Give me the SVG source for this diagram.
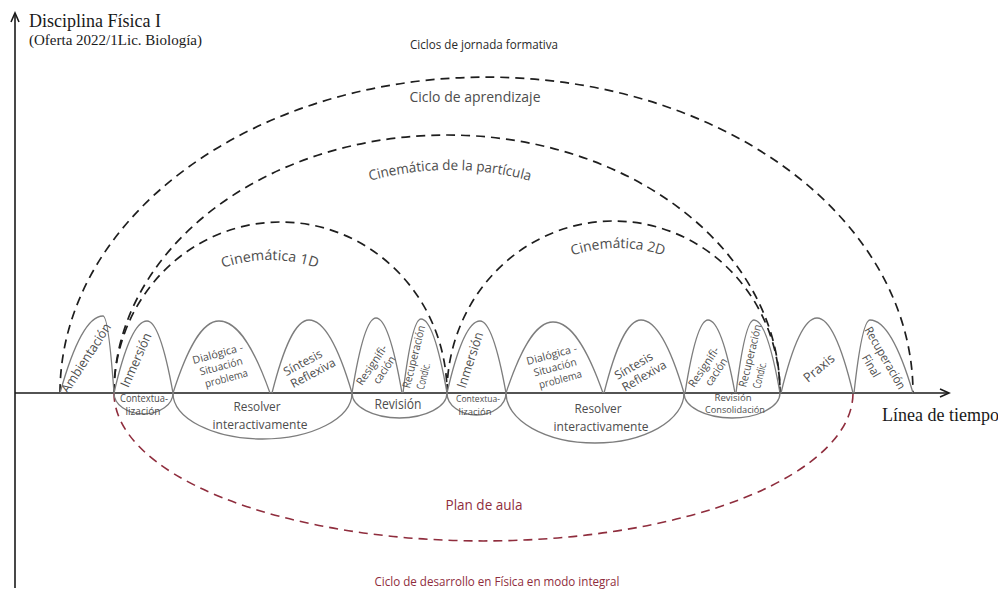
<svg xmlns="http://www.w3.org/2000/svg" width="998" height="591" viewBox="0 0 998 591">
<style>
.bump{fill:none;stroke:#7d7d7d;stroke-width:1.3}
.lbl{font-family:"Open Sans","Liberation Sans",sans-serif;fill:#4d4d4d;text-anchor:middle}
.st{text-anchor:start}
.arc{fill:none;stroke:#1e1e1e;stroke-width:1.7;stroke-dasharray:9 6}
.red{fill:none;stroke:#8f2d3d;stroke-width:1.6;stroke-dasharray:9 6}
.axis{stroke:#1a1a1a;stroke-width:1.6;fill:none}
.serif{font-family:"Liberation Serif","Times New Roman",serif;fill:#1a1a1a}
.rt{font-family:"Open Sans","Liberation Sans",sans-serif;fill:#8f2d3d;text-anchor:middle}
</style>
<defs>
<path id="p1d" d="M125 405 A145 145 0 0 1 415 405"/>
<path id="p2d" d="M473 393 A145 145 0 0 1 763 393"/>
<path id="ppart" d="M150 470 A300 300 0 0 1 750 470"/>
</defs>
<rect width="998" height="591" fill="#ffffff"/>

<g id="axes">
<line class="axis" x1="15" y1="588" x2="15" y2="14"/>
<polyline class="axis" points="11,22 15,13 19,22"/>
<line class="axis" x1="15" y1="393" x2="948" y2="393"/>
<polyline class="axis" points="940,389 949,393 940,397"/>
<text class="serif" x="29" y="27" font-size="18">Disciplina Física I</text>
<text class="serif" x="29" y="45" font-size="14" textLength="173" lengthAdjust="spacingAndGlyphs">(Oferta 2022/1Lic. Biología)</text>
<text class="serif" x="882" y="421" font-size="18">Línea de tiempo</text>
</g>

<g id="connectors">
<path class="arc" d="M60 393 A426.5 316 0 0 1 913 393"/>
<path class="arc" d="M114 393 A333 258 0 0 1 780 393"/>
<path class="arc" d="M114 393 A166.5 171 0 0 1 447 393"/>
<path class="arc" d="M447 393 A166.5 172 0 0 1 780 393"/>
<path class="red" d="M114 393 A369.5 148 0 0 0 853 393"/>
</g>

<g id="cycle-labels">
<text class="lbl" x="484" y="49" font-size="13" textLength="148" lengthAdjust="spacingAndGlyphs" style="fill:#2a2a2a">Ciclos de jornada formativa</text>
<text class="lbl" x="475" y="102" font-size="14" textLength="131" lengthAdjust="spacingAndGlyphs">Ciclo de aprendizaje</text>
<text class="lbl" font-size="14"><textPath href="#ppart" startOffset="50%" textLength="162" lengthAdjust="spacingAndGlyphs">Cinemática de la partícula</textPath></text>
<text class="lbl" font-size="14"><textPath href="#p1d" startOffset="50%" textLength="96" lengthAdjust="spacingAndGlyphs">Cinemática 1D</textPath></text>
<text class="lbl" font-size="14"><textPath href="#p2d" startOffset="50%" textLength="93" lengthAdjust="spacingAndGlyphs">Cinemática 2D</textPath></text>
<text class="rt" x="484" y="510" font-size="14" textLength="77" lengthAdjust="spacingAndGlyphs">Plan de aula</text>
<text class="rt" x="497" y="586" font-size="13" textLength="245" lengthAdjust="spacingAndGlyphs">Ciclo de desarrollo en Física en modo integral</text>
</g>

<g id="ambientacion">
<path class="bump" d="M60 393 C72.9 346.8 86.7 316 103 316 C107.2 316 110.7 346.8 114 393"/>
<text class="lbl" transform="translate(86,358) rotate(-57)" y="4.5" font-size="13" textLength="80" lengthAdjust="spacingAndGlyphs">Ambientación</text>
</g>

<g id="inmersion-1">
<path class="bump" d="M114 393 C123.9 349.8 134.5 321 147 321 C156.9 321 165.2 349.8 173 393"/>
<text class="lbl" transform="translate(136,360) rotate(-66)" y="4.5" font-size="13" textLength="58" lengthAdjust="spacingAndGlyphs">Inmersión</text>
</g>

<g id="contextualizacion-1">
<path class="bump" d="M114 393 A29.5 21 0 0 0 173 393"/>
<text class="lbl" x="144" y="402" font-size="10" textLength="48" lengthAdjust="spacingAndGlyphs">Contextua-</text>
<text class="lbl" x="143" y="415" font-size="10" textLength="35" lengthAdjust="spacingAndGlyphs">lización</text>
</g>

<g id="dialogica-1">
<path class="bump" d="M173 393 C186.8 349.8 201.5 321 219 321 C238.4 321 254.7 349.8 270 393"/>
<g transform="translate(221,366) rotate(-15)" class="lbl" font-size="10.5">
<text x="0" y="-9" textLength="52" lengthAdjust="spacingAndGlyphs">Dialógica -</text>
<text x="0" y="4" textLength="44" lengthAdjust="spacingAndGlyphs">Situación</text>
<text x="2" y="17" textLength="44" lengthAdjust="spacingAndGlyphs">problema</text>
</g>
</g>

<g id="sintesis-1">
<path class="bump" d="M272 393 C283.1 349.2 294.9 320 309 320 C325.3 320 339.1 349.2 352 393"/>
<g transform="translate(308,368) rotate(-28)" class="lbl" font-size="12">
<text x="-2" y="-3" textLength="42" lengthAdjust="spacingAndGlyphs">Síntesis</text>
<text x="2" y="11" textLength="49" lengthAdjust="spacingAndGlyphs">Reflexiva</text>
</g>
</g>

<g id="resolver-1">
<path class="bump" d="M173 393 A89.5 46 0 0 0 352 393"/>
<text class="lbl" x="257" y="411" font-size="13" textLength="47" lengthAdjust="spacingAndGlyphs">Resolver</text>
<text class="lbl" x="260" y="429" font-size="13" textLength="95" lengthAdjust="spacingAndGlyphs">interactivamente</text>
</g>

<g id="resignificacion-1">
<path class="bump" d="M352 393 C359.2 348 366.9 318 376 318 C385.9 318 394.2 348 402 393"/>
<g transform="translate(378,368) rotate(-56)" class="lbl" font-size="11">
<text x="-1" y="-3" textLength="46" lengthAdjust="spacingAndGlyphs">Resignifi-</text>
<text x="2" y="10" textLength="31" lengthAdjust="spacingAndGlyphs">cación</text>
</g>
</g>

<g id="recuperacion-1">
<path class="bump" d="M403 393 C408.4 348.6 414.2 319 421 319 C430.9 319 439.2 348.6 447 393"/>
<g transform="translate(418,366) rotate(-76)" class="lbl" font-size="11">
<text class="st" x="-24" y="-2.5" textLength="64" lengthAdjust="spacingAndGlyphs">Recuperación</text>
<text class="st" x="-22" y="11.5" textLength="27" lengthAdjust="spacingAndGlyphs">Condic.</text>
</g>
</g>

<g id="revision-1">
<path class="bump" d="M352 393 A47.5 25 0 0 0 447 393"/>
<text class="lbl" x="398" y="409" font-size="14" textLength="47" lengthAdjust="spacingAndGlyphs">Revisión</text>
</g>

<g id="inmersion-2">
<path class="bump" d="M447 393 C456.9 349.8 467.5 321 480 321 C489.9 321 498.2 349.8 506 393"/>
<text class="lbl" transform="translate(470,360) rotate(-72)" y="4.5" font-size="13" textLength="58" lengthAdjust="spacingAndGlyphs">Inmersión</text>
</g>

<g id="contextualizacion-2">
<path class="bump" d="M447 393 A29.5 22 0 0 0 506 393"/>
<text class="lbl" x="478" y="402" font-size="9.5" textLength="44" lengthAdjust="spacingAndGlyphs">Contextua-</text>
<text class="lbl" x="475" y="415" font-size="9.5" textLength="33" lengthAdjust="spacingAndGlyphs">lización</text>
</g>

<g id="dialogica-2">
<path class="bump" d="M506 393 C520.1 350.4 535.1 322 553 322 C572 322 588 350.4 603 393"/>
<g transform="translate(555,367) rotate(-15)" class="lbl" font-size="10.5">
<text x="0" y="-9" textLength="52" lengthAdjust="spacingAndGlyphs">Dialógica -</text>
<text x="0" y="4" textLength="44" lengthAdjust="spacingAndGlyphs">Situación</text>
<text x="2" y="17" textLength="44" lengthAdjust="spacingAndGlyphs">problema</text>
</g>
</g>

<g id="sintesis-2">
<path class="bump" d="M604 393 C615.1 349.2 626.9 320 641 320 C657.3 320 671.1 349.2 684 393"/>
<g transform="translate(639,371) rotate(-30)" class="lbl" font-size="12">
<text x="-2" y="-3" textLength="42" lengthAdjust="spacingAndGlyphs">Síntesis</text>
<text x="2" y="11" textLength="49" lengthAdjust="spacingAndGlyphs">Reflexiva</text>
</g>
</g>

<g id="resolver-2">
<path class="bump" d="M506 393 A89 50 0 0 0 684 393"/>
<text class="lbl" x="598" y="413" font-size="13" textLength="47" lengthAdjust="spacingAndGlyphs">Resolver</text>
<text class="lbl" x="601" y="431" font-size="13" textLength="95" lengthAdjust="spacingAndGlyphs">interactivamente</text>
</g>

<g id="resignificacion-2">
<path class="bump" d="M685 393 C691.9 349.2 699.3 320 708 320 C718.3 320 726.9 349.2 735 393"/>
<g transform="translate(710,370) rotate(-56)" class="lbl" font-size="11">
<text x="-1" y="-3" textLength="46" lengthAdjust="spacingAndGlyphs">Resignifi-</text>
<text x="2" y="10" textLength="31" lengthAdjust="spacingAndGlyphs">cación</text>
</g>
</g>

<g id="recuperacion-2">
<path class="bump" d="M736 393 C741.4 349.2 747.2 320 754 320 C763.9 320 772.2 349.2 780 393"/>
<g transform="translate(754,366) rotate(-76)" class="lbl" font-size="11">
<text class="st" x="-23" y="-2.5" textLength="64" lengthAdjust="spacingAndGlyphs">Recuperación</text>
<text class="st" x="-21" y="11.5" textLength="27" lengthAdjust="spacingAndGlyphs">Condic.</text>
</g>
</g>

<g id="revision-consolidacion">
<path class="bump" d="M684 393 A48 25 0 0 0 780 393"/>
<text class="lbl" x="733" y="401" font-size="9.5" textLength="37" lengthAdjust="spacingAndGlyphs">Revisión</text>
<text class="lbl" x="735" y="413" font-size="9.5" textLength="60" lengthAdjust="spacingAndGlyphs">Consolidación</text>
</g>

<g id="praxis">
<path class="bump" d="M781 393 C791.8 348 803.3 318 817 318 C830.7 318 842.2 348 853 393"/>
<text class="lbl" transform="translate(819,368) rotate(-40)" y="4.5" font-size="13" textLength="36" lengthAdjust="spacingAndGlyphs">Praxis</text>
</g>

<g id="recuperacion-final">
<path class="bump" d="M854 393 C858.8 349.2 863.9 320 870 320 C886.3 320 900.1 349.2 913 393"/>
<g transform="translate(878,362) rotate(60)" class="lbl" font-size="12">
<text x="0" y="-4" textLength="70" lengthAdjust="spacingAndGlyphs">Recuperación</text>
<text x="0" y="12" textLength="24" lengthAdjust="spacingAndGlyphs">Final</text>
</g>
</g>
</svg>
